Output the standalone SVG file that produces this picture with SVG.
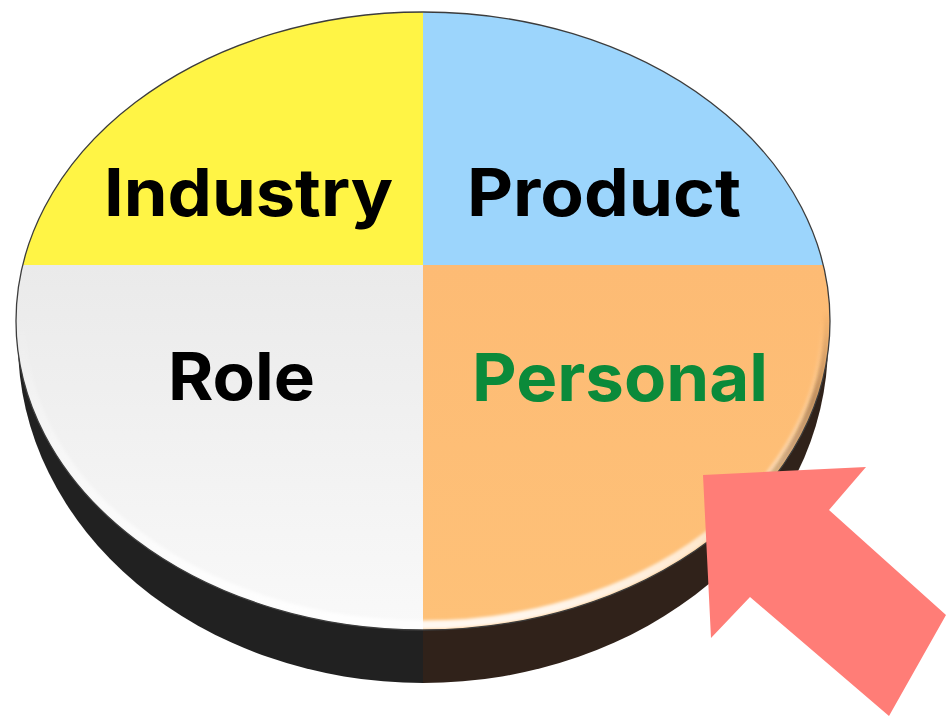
<svg xmlns="http://www.w3.org/2000/svg" width="946" height="716" viewBox="0 0 946 716">
  <defs>
    <style>
      .lbl { font-family: "Inter", "Liberation Sans", sans-serif; font-weight: 700; font-size: 66px; }
      .dark { fill: #000000; }
      .green { fill: #0b8a3a; }
    </style>
    <clipPath id="faceClip">
      <ellipse cx="423" cy="321" rx="407" ry="309"/>
    </clipPath>
    <linearGradient id="fadeIn" x1="0" y1="310" x2="0" y2="400" gradientUnits="userSpaceOnUse">
      <stop offset="0" stop-color="#000000"/>
      <stop offset="1" stop-color="#ffffff"/>
    </linearGradient>
    <mask id="shadeMask" maskUnits="userSpaceOnUse" x="0" y="0" width="946" height="716">
      <rect x="0" y="0" width="946" height="716" fill="url(#fadeIn)"/>
    </mask>
    <linearGradient id="roleGrad" x1="0" y1="265" x2="0" y2="630" gradientUnits="userSpaceOnUse">
      <stop offset="0" stop-color="#eaeaea"/>
      <stop offset="1" stop-color="#f9f9f9"/>
    </linearGradient>
    <linearGradient id="persGrad" x1="0" y1="265" x2="0" y2="630" gradientUnits="userSpaceOnUse">
      <stop offset="0" stop-color="#fdbb74"/>
      <stop offset="1" stop-color="#fec178"/>
    </linearGradient>
    <linearGradient id="rimGrad" x1="0" y1="320" x2="0" y2="630" gradientUnits="userSpaceOnUse">
      <stop offset="0" stop-color="#ffffff" stop-opacity="0"/>
      <stop offset="1" stop-color="#ffffff" stop-opacity="0.9"/>
    </linearGradient>
    <linearGradient id="shadeGrad" x1="700" y1="0" x2="832" y2="0" gradientUnits="userSpaceOnUse">
      <stop offset="0" stop-color="#6b3d12" stop-opacity="0"/>
      <stop offset="1" stop-color="#6b3d12" stop-opacity="0.5"/>
    </linearGradient>
    <filter id="soft" x="-5%" y="-5%" width="110%" height="110%">
      <feGaussianBlur stdDeviation="1.6"/>
    </filter>
  </defs>

  <rect width="946" height="716" fill="#ffffff"/>

  <g id="disc-side">
    <path d="M 18 343 A 405 340 0 0 0 423 683 L 423 343 Z" fill="#212121"/>
    <path d="M 423 683 A 405 340 0 0 0 828 343 L 423 343 Z" fill="#30221a"/>
  </g>

  <g id="face" clip-path="url(#faceClip)">
    <g id="industry">
      <rect x="0" y="0" width="423" height="265" fill="#fff445"/>
    </g>
    <g id="product">
      <rect x="423" y="0" width="523" height="265" fill="#9cd5fc"/>
    </g>
    <g id="role">
      <rect x="0" y="265" width="423" height="451" fill="url(#roleGrad)"/>
    </g>
    <g id="personal">
      <rect x="423" y="265" width="523" height="451" fill="url(#persGrad)"/>
    </g>
    <ellipse cx="423" cy="321" rx="402" ry="304" fill="none" stroke="url(#rimGrad)" stroke-width="9" filter="url(#soft)"/>
    <g mask="url(#shadeMask)">
      <ellipse cx="423" cy="321" rx="404" ry="306" fill="none" stroke="url(#shadeGrad)" stroke-width="6" filter="url(#soft)"/>
    </g>
  </g>
  <ellipse cx="423" cy="321" rx="407" ry="309" fill="none" stroke="#3c3c3c" stroke-width="1.3"/>

  <g id="labels">
    <text class="lbl dark" x="104" y="216" textLength="289" lengthAdjust="spacingAndGlyphs">Industry</text>
    <text class="lbl dark" x="467" y="216" textLength="274" lengthAdjust="spacingAndGlyphs">Product</text>
    <text class="lbl dark" x="168" y="400" textLength="147" lengthAdjust="spacingAndGlyphs">Role</text>
    <text class="lbl green" x="472" y="401" textLength="296" lengthAdjust="spacingAndGlyphs">Personal</text>
  </g>

  <g id="arrow">
    <polygon points="703,475 866,467 829,510 946,615 889,716 750,597 711,638" fill="#ff7d77"/>
  </g>
</svg>
